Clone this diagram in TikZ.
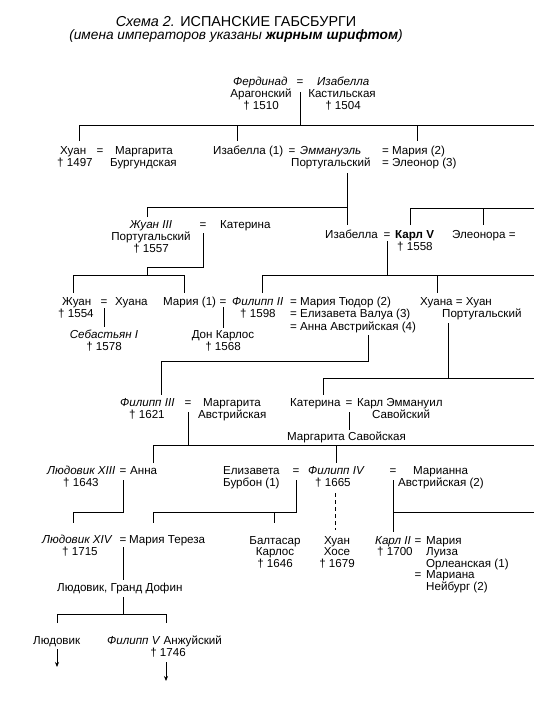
\documentclass[tikz,border=0pt]{standalone}
\usepackage{fontspec}
\setmainfont{Liberation Sans}
\usetikzlibrary{arrows.meta}

\begin{document}
\begin{tikzpicture}[x=1pt, y=-1pt,
  every node/.style={font=\fontsize{11.6}{12}\selectfont},
  who/.style={anchor=base west, inner sep=0pt},
  ctr/.style={anchor=base, inner sep=0pt},
  headline/.style={anchor=base, inner sep=0pt, font=\fontsize{14}{14}\selectfont},
  link/.style={line width=0.75pt},
  heir/.style={link, -{Stealth[length=5pt, width=4pt]}}]
\useasboundingbox (0,0) rectangle (534,706);

% title
\node[headline, font=\fontsize{14.4}{14}\selectfont] (title) at (236,27) {\textit{Схема 2.} ИСПАНСКИЕ ГАБСБУРГИ};
\node[headline, font=\fontsize{13.7}{14}\selectfont] (subtitle) at (236,40) {\textit{(имена императоров указаны \textbf{жирным шрифтом})}};

% Фердинад = Изабелла
\node[who] (ferd) at (233,86) {\textit{Фердинад}};
\node[ctr] (eq0) at (300,86) {=};
\node[who] (isab) at (317,86) {\textit{Изабелла}};
\node[ctr] (arag) at (261,98) {Арагонский};
\node[ctr] (kast) at (342,98) {Кастильская};
\node[ctr] (d1510) at (261,110) {† 1510};
\node[ctr] (d1504) at (343,110) {† 1504};

% their children
\node[who] (huan1) at (60,154) {Хуан};
\node[ctr] (eq1) at (100,154) {=};
\node[who] (marg1) at (115,154) {Маргарита};
\node[who] (d1497) at (57,166) {† 1497};
\node[who] (burg) at (110,166) {Бургундская};
\node[who] (isab1) at (213,154) {Изабелла (1)};
\node[ctr] (eq2) at (292,154) {=};
\node[who] (emm) at (300,154) {\textit{Эммануэль}};
\node[who] (port1) at (291,166) {Португальский};
\node[who] (mar2) at (382,154) {= Мария (2)};
\node[who] (ele3) at (382,166) {= Элеонор (3)};

% Жуан III = Катерина
\node[ctr] (juan3) at (151,228) {\textit{Жуан III}};
\node[ctr] (eq3) at (203,228) {=};
\node[who] (kat1) at (220,228) {Катерина};
\node[ctr] (port2) at (151,240) {Португальский};
\node[ctr] (d1557) at (151,252) {† 1557};

% Изабелла = Карл V
\node[who] (isab2) at (325,238) {Изабелла};
\node[ctr] (eq4) at (387,238) {=};
\node[who] (karl5) at (395,238) {\textbf{Карл V}};
\node[who] (d1558) at (397,250) {† 1558};
\node[who] (eleon) at (452,238) {Элеонора =};

% grandchildren
\node[who] (juan4) at (62,305) {Жуан};
\node[ctr] (eq5) at (104,305) {=};
\node[who] (huana1) at (115,305) {Хуана};
\node[who] (d1554) at (58,317) {† 1554};
\node[ctr] (seb) at (104,338) {\textit{Себастьян I}};
\node[ctr] (d1578) at (104,350) {† 1578};
\node[who] (mar1) at (163,305) {Мария (1)};
\node[ctr] (eq6) at (223,305) {=};
\node[who] (fil2) at (232,305) {\textit{Филипп II}};
\node[who] (d1598) at (240,317) {† 1598};
\node[ctr] (carlos) at (223,338) {Дон Карлос};
\node[ctr] (d1568) at (223,350) {† 1568};
\node[who] (tud) at (290,305) {= Мария Тюдор (2)};
\node[who] (valua) at (290,317) {= Елизавета Валуа (3)};
\node[who] (anna4) at (290,330) {= Анна Австрийская (4)};
\node[who] (huana2) at (420,305) {Хуана = Хуан};
\node[who] (port3) at (442,317) {Португальский};

% Филипп III = Маргарита, Катерина = Карл Эммануил
\node[who] (fil3) at (120,406) {\textit{Филипп III}};
\node[ctr] (eq7) at (188,406) {=};
\node[who] (marg2) at (203,406) {Маргарита};
\node[who] (d1621) at (129,418) {† 1621};
\node[who] (avst1) at (198,418) {Австрийская};
\node[who] (kat2) at (290,406) {Катерина};
\node[ctr] (eq8) at (349,406) {=};
\node[who] (karlem) at (357,406) {Карл Эммануил};
\node[who] (sav) at (372,418) {Савойский};
\node[who] (margsav) at (287,440) {Маргарита Савойская};

% Людовик XIII = Анна, Филипп IV
\node[who] (lud13) at (47,474) {\textit{Людовик XIII}};
\node[ctr] (eq9) at (123,474) {=};
\node[who] (anna) at (130,474) {Анна};
\node[who] (d1643) at (63,486) {† 1643};
\node[who] (eliz) at (223,474) {Елизавета};
\node[who] (burb) at (223,486) {Бурбон (1)};
\node[ctr] (eq10) at (296,474) {=};
\node[who] (fil4) at (308,474) {\textit{Филипп IV}};
\node[who] (d1665) at (315,486) {† 1665};
\node[ctr] (eq11) at (393,474) {=};
\node[who] (marian) at (413,474) {Марианна};
\node[who] (avst2) at (398,486) {Австрийская (2)};

% Людовик XIV = Мария Тереза and siblings
\node[who] (lud14) at (42,543) {\textit{Людовик XIV}};
\node[ctr] (eq12) at (123,543) {=};
\node[who] (mt) at (129,543) {Мария Тереза};
\node[who] (d1715) at (62,555) {† 1715};
\node[ctr] (balt) at (275,544) {Балтасар};
\node[ctr] (balt2) at (275,555.5) {Карлос};
\node[ctr] (d1646) at (275,567) {† 1646};
\node[ctr] (hh) at (337,544) {Хуан};
\node[ctr] (hh2) at (337,555.5) {Хосе};
\node[ctr] (d1679) at (337,567) {† 1679};
\node[who] (karl2) at (375,544) {\textit{Карл II}};
\node[ctr] (eq13) at (418,544) {=};
\node[who] (mlo) at (426,544) {Мария};
\node[who] (d1700) at (377,555.5) {† 1700};
\node[who] (mlo2) at (426,555.5) {Луиза};
\node[who] (mlo3) at (426,567) {Орлеанская (1)};
\node[ctr] (eq14) at (418,578.5) {=};
\node[who] (mn) at (426,578.5) {Мариана};
\node[who] (mn2) at (426,590) {Нейбург (2)};

% Дофин and his sons
\node[who] (dauph) at (57,591) {Людовик, Гранд Дофин};
\node[who] (lud) at (33,644) {Людовик};
\node[who] (fil5) at (107,644) {\textit{Филипп V} Анжуйский};
\node[ctr] (d1746) at (168,656) {† 1746};

% lines
\draw[link] (eq0.base) ++(0,6) -- (eq0.base |- 0,125);
\draw[link] (79,125) -- (534,125);
\foreach \x in {79,237,417} \draw[link] (\x,125) -- (\x,141);
\draw[link] (347,173) -- (347,225);
\draw[link] (147,217) |- (347,207);
\draw[link] (410,225) |- (534,208);
\draw[link] (483,208) -- (483,225);
\draw[link] (eq3.base) ++(0,5) |- (147,267) -- (147,275);
\draw[link] (73,293) |- (184,275) -- (184,293);
\draw[link] (eq4.base) ++(0,3) -- (eq4.base |- 0,275);
\draw[link] (262,293) |- (534,275);
\draw[link] (437,275) -- (437,293);
\draw[link] (eq5.base) ++(0,3) -- (eq5.base |- 0,327);
\draw[link] (eq6.base) ++(0,2) -- (eq6.base |- 0,328);
\draw[link] (368,335) |- (161,361) -- (161,395);
\draw[link] (448,323) |- (323,378) -- (323,395);
\draw[link] (448,378) -- (534,378);
\draw[link] (eq7.base) ++(0,6) -- (eq7.base |- 0,445);
\draw[link] (153,463) |- (534,445);
\draw[link] (336,445) -- (336,463);
\draw[link] (eq8.base) ++(0,6) -- (eq8.base |- 0,430);
\draw[link] (eq9.base) ++(0,6) |- (73,512) -- (73,523);
\draw[link] (eq10.base) ++(0,6) |- (153,512) -- (153,523);
\draw[link] (274,512) -- (274,523);
\draw[link, dash pattern=on 4pt off 3pt] (335,493) -- (335,530);
\draw[link] (eq11.base) ++(0,6) -- (eq11.base |- 0,532);
\draw[link] (eq11.base |- 0,512) -- (534,512);
\draw[link] (eq12.base) ++(0,4) -- (eq12.base |- 0,580);
\draw[link] (123,597) -- (123,614);
\draw[link] (57,623) |- (166,614) -- (166,623);
\draw[heir] (57,649) -- (57,667);
\draw[heir] (166,662) -- (166,681);
\end{tikzpicture}
\end{document}
